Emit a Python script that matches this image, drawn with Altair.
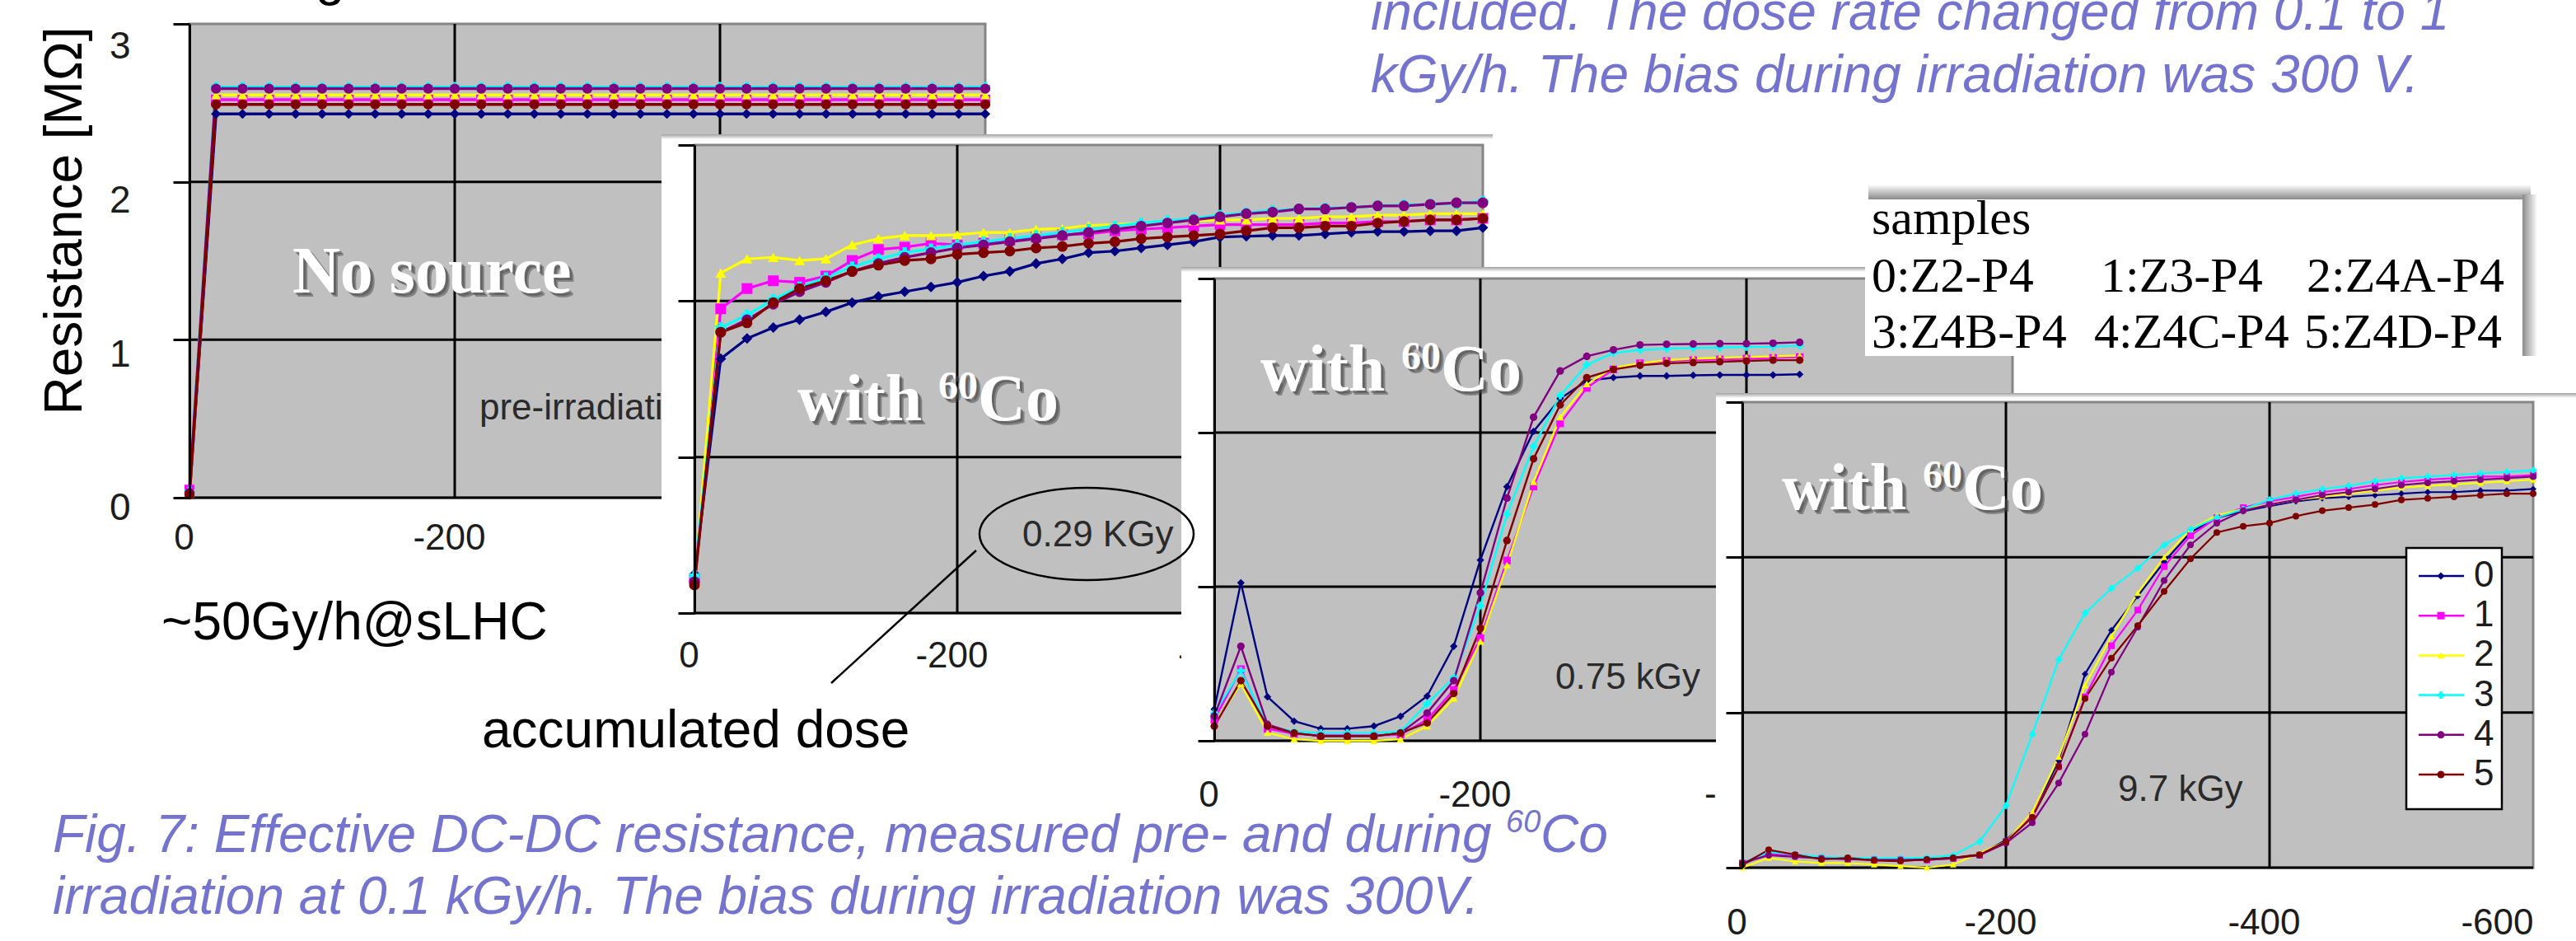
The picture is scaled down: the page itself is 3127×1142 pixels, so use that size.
import altair as alt
import pandas as pd

W, H = 3127, 1142
SANS = "Liberation Sans"
SERIF = "Liberation Serif"
BLUE = "#7474CF"
INK = "#1c1c1c"
PLOT_GRAY = "#C0C0C0"

# ------------------------------------------------------------------ data
series = ["0", "1", "2", "3", "4", "5"]
series_colors = ["#000080", "#FF00FF", "#FFFF00", "#00FFFF", "#800080", "#800000"]
series_shapes = ["diamond", "square", "triangle-up", "cross", "circle", "circle"]
sample_names = ["0:Z2-P4", "1:Z3-P4", "2:Z4A-P4", "3:Z4B-P4", "4:Z4C-P4", "5:Z4D-P4"]

x_domain = [0, -600]
y_domain = [0, 3]
grid_x = [-200, -400]
grid_y = [0, 1, 2]
y_ticks = [0, 1, 2, 3]

bias_full = [0, -20, -40, -60, -80, -100, -120, -140, -160, -180, -200, -220, -240, -260, -280, -300,
             -320, -340, -360, -380, -400, -420, -440, -460, -480, -500, -520, -540, -560, -580, -600]
bias_short = [0, -20, -40, -60, -80, -100, -120, -140, -160, -180, -200, -220,
              -240, -260, -280, -300, -320, -340, -360, -380, -400, -420, -440]

# panel 1: pre-irradiation (no source)
pre_s0 = [0.02, 2.43, 2.43, 2.43, 2.43, 2.43, 2.43, 2.43, 2.43, 2.43, 2.43, 2.43, 2.43, 2.43, 2.43, 2.43,
          2.43, 2.43, 2.43, 2.43, 2.43, 2.43, 2.43, 2.43, 2.43, 2.43, 2.43, 2.43, 2.43, 2.43, 2.43]
pre_s1 = [0.05, 2.52, 2.52, 2.52, 2.52, 2.52, 2.52, 2.52, 2.52, 2.52, 2.52, 2.52, 2.52, 2.52, 2.52, 2.52,
          2.52, 2.52, 2.52, 2.52, 2.52, 2.52, 2.52, 2.52, 2.52, 2.52, 2.52, 2.52, 2.52, 2.52, 2.52]
pre_s2 = [0.03, 2.55, 2.55, 2.55, 2.55, 2.55, 2.55, 2.55, 2.55, 2.55, 2.55, 2.55, 2.55, 2.55, 2.55, 2.55,
          2.55, 2.55, 2.55, 2.55, 2.55, 2.55, 2.55, 2.55, 2.55, 2.55, 2.55, 2.55, 2.55, 2.55, 2.55]
pre_s3 = [0.04, 2.60, 2.60, 2.60, 2.60, 2.60, 2.60, 2.60, 2.60, 2.60, 2.60, 2.60, 2.60, 2.60, 2.60, 2.60,
          2.60, 2.60, 2.60, 2.60, 2.60, 2.60, 2.60, 2.60, 2.60, 2.60, 2.60, 2.60, 2.60, 2.60, 2.60]
pre_s4 = [0.03, 2.59, 2.59, 2.59, 2.59, 2.59, 2.59, 2.59, 2.59, 2.59, 2.59, 2.59, 2.59, 2.59, 2.59, 2.59,
          2.59, 2.59, 2.59, 2.59, 2.59, 2.59, 2.59, 2.59, 2.59, 2.59, 2.59, 2.59, 2.59, 2.59, 2.59]
pre_s5 = [0.02, 2.49, 2.49, 2.49, 2.49, 2.49, 2.49, 2.49, 2.49, 2.49, 2.49, 2.49, 2.49, 2.49, 2.49, 2.49,
          2.49, 2.49, 2.49, 2.49, 2.49, 2.49, 2.49, 2.49, 2.49, 2.49, 2.49, 2.49, 2.49, 2.49, 2.49]

# panel 2: 0.29 kGy
d029_s0 = [0.25, 1.63, 1.76, 1.83, 1.88, 1.93, 1.99, 2.03, 2.06, 2.09, 2.12, 2.16, 2.19, 2.24, 2.27, 2.31,
           2.32, 2.34, 2.36, 2.38, 2.41, 2.415, 2.42, 2.42, 2.43, 2.44, 2.445, 2.445, 2.45, 2.45, 2.47]
d029_s1 = [0.22, 1.95, 2.08, 2.13, 2.12, 2.16, 2.26, 2.33, 2.345, 2.37, 2.36, 2.37, 2.39, 2.41, 2.425, 2.43,
           2.45, 2.46, 2.47, 2.48, 2.49, 2.49, 2.49, 2.49, 2.50, 2.50, 2.51, 2.51, 2.52, 2.52, 2.53]
d029_s2 = [0.20, 2.18, 2.27, 2.28, 2.26, 2.27, 2.36, 2.40, 2.42, 2.42, 2.425, 2.44, 2.44, 2.46, 2.465, 2.485,
           2.49, 2.50, 2.51, 2.515, 2.52, 2.52, 2.53, 2.53, 2.54, 2.54, 2.55, 2.55, 2.56, 2.56, 2.56]
d029_s3 = [0.24, 1.83, 1.91, 2.01, 2.09, 2.15, 2.22, 2.27, 2.31, 2.335, 2.36, 2.38, 2.40, 2.42, 2.44, 2.46,
           2.48, 2.50, 2.515, 2.53, 2.55, 2.565, 2.58, 2.59, 2.595, 2.60, 2.61, 2.615, 2.62, 2.625, 2.64]
d029_s4 = [0.20, 1.80, 1.88, 1.98, 2.06, 2.12, 2.19, 2.24, 2.28, 2.31, 2.34, 2.36, 2.38, 2.40, 2.42, 2.44,
           2.46, 2.48, 2.50, 2.52, 2.54, 2.56, 2.57, 2.59, 2.59, 2.60, 2.61, 2.61, 2.62, 2.63, 2.63]
d029_s5 = [0.18, 1.80, 1.86, 1.99, 2.08, 2.13, 2.19, 2.23, 2.26, 2.27, 2.30, 2.31, 2.32, 2.34, 2.35, 2.37,
           2.38, 2.40, 2.41, 2.42, 2.43, 2.45, 2.47, 2.47, 2.48, 2.48, 2.50, 2.51, 2.52, 2.52, 2.53]

# panel 3: 0.75 kGy
d075_s0 = [0.205, 1.025, 0.285, 0.127, 0.078, 0.078, 0.095, 0.159, 0.29, 0.613, 1.173, 1.649,
           2.008, 2.22, 2.336, 2.357, 2.368, 2.368, 2.372, 2.374, 2.374, 2.374, 2.378]
d075_s1 = [0.137, 0.465, 0.078, 0.045, 0.035, 0.035, 0.035, 0.04, 0.137, 0.33, 0.666, 1.17,
           1.65, 2.06, 2.29, 2.41, 2.45, 2.465, 2.47, 2.475, 2.48, 2.485, 2.49]
d075_s2 = [0.11, 0.37, 0.053, 0.01, 0.0, 0.0, 0.0, 0.01, 0.095, 0.275, 0.645, 1.14,
           1.68, 2.10, 2.315, 2.42, 2.45, 2.47, 2.48, 2.485, 2.49, 2.495, 2.50]
d075_s3 = [0.18, 0.455, 0.095, 0.06, 0.05, 0.05, 0.05, 0.06, 0.24, 0.41, 0.877, 1.47,
           1.91, 2.24, 2.44, 2.516, 2.537, 2.545, 2.55, 2.552, 2.556, 2.558, 2.565]
d075_s4 = [0.16, 0.613, 0.106, 0.05, 0.03, 0.03, 0.03, 0.05, 0.18, 0.39, 0.96, 1.575,
           2.10, 2.40, 2.495, 2.537, 2.569, 2.573, 2.575, 2.577, 2.577, 2.58, 2.586]
d075_s5 = [0.095, 0.39, 0.095, 0.05, 0.03, 0.03, 0.03, 0.05, 0.116, 0.307, 0.73, 1.30,
           1.83, 2.18, 2.357, 2.41, 2.437, 2.45, 2.455, 2.46, 2.465, 2.47, 2.47]

# panel 4: 9.7 kGy
d97_s0 = [0.02, 0.10, 0.084, 0.063, 0.06, 0.055, 0.05, 0.055, 0.063, 0.084, 0.178, 0.336, 0.69, 1.248, 1.53, 1.75,
          1.97, 2.16, 2.255, 2.297, 2.33, 2.36, 2.38, 2.39, 2.40, 2.41, 2.42, 2.42, 2.43, 2.43, 2.44]
d97_s1 = [0.03, 0.09, 0.08, 0.06, 0.055, 0.05, 0.05, 0.05, 0.06, 0.08, 0.168, 0.336, 0.65, 1.10, 1.43, 1.66,
          1.94, 2.14, 2.255, 2.32, 2.36, 2.39, 2.42, 2.44, 2.465, 2.485, 2.50, 2.51, 2.52, 2.52, 2.53]
d97_s2 = [0.0, 0.063, 0.04, 0.03, 0.03, 0.02, 0.01, 0.0, 0.02, 0.094, 0.168, 0.357, 0.713, 1.175, 1.49, 1.77,
          2.00, 2.18, 2.27, 2.31, 2.34, 2.37, 2.39, 2.41, 2.43, 2.45, 2.46, 2.47, 2.48, 2.49, 2.50]
d97_s3 = [0.03, 0.10, 0.085, 0.07, 0.065, 0.06, 0.06, 0.065, 0.08, 0.168, 0.40, 0.86, 1.34, 1.64, 1.80, 1.93,
          2.08, 2.18, 2.255, 2.31, 2.37, 2.41, 2.44, 2.46, 2.49, 2.51, 2.52, 2.53, 2.54, 2.55, 2.56]
d97_s4 = [0.03, 0.08, 0.07, 0.06, 0.055, 0.05, 0.05, 0.05, 0.06, 0.08, 0.158, 0.29, 0.545, 0.86, 1.26, 1.55,
          1.85, 2.08, 2.22, 2.30, 2.34, 2.37, 2.40, 2.42, 2.44, 2.465, 2.48, 2.49, 2.50, 2.51, 2.52]
d97_s5 = [0.02, 0.115, 0.084, 0.053, 0.063, 0.046, 0.042, 0.053, 0.063, 0.084, 0.168, 0.325, 0.65, 1.09, 1.35, 1.56,
          1.78, 1.99, 2.16, 2.20, 2.22, 2.265, 2.30, 2.32, 2.34, 2.37, 2.38, 2.39, 2.40, 2.41, 2.41]

pre_curves = [pre_s0, pre_s1, pre_s2, pre_s3, pre_s4, pre_s5]
d029_curves = [d029_s0, d029_s1, d029_s2, d029_s3, d029_s4, d029_s5]
d075_curves = [d075_s0, d075_s1, d075_s2, d075_s3, d075_s4, d075_s5]
d97_curves = [d97_s0, d97_s1, d97_s2, d97_s3, d97_s4, d97_s5]

# ------------------------------------------------------------------ helpers
color_scale = alt.Scale(domain=series, range=series_colors)
shape_scale = alt.Scale(domain=series, range=series_shapes)
ONE = pd.DataFrame({"k": [0]})
TICK_FONT = 44


def long_table(volts, curves):
    rows = []
    for name, ys in zip(series, curves):
        for v, r in zip(volts, ys):
            rows.append({"x": v, "y": r, "s": name})
    return pd.DataFrame(rows)


def txt(label, x, y, size, color="black", font=SANS, align="left", baseline="alphabetic",
        weight="normal", style="normal", angle=None, opacity=1.0):
    kw = dict(font=font, fontSize=size, color=color, align=align, baseline=baseline,
              fontWeight=weight, fontStyle=style, opacity=opacity)
    if angle is not None:
        kw["angle"] = angle
    return alt.Chart(pd.DataFrame({"label": [label]})).mark_text(**kw).encode(
        x=alt.value(x), y=alt.value(y), text="label:N")


def box(x1, x2, y1, y2, fill, stroke=None, sw=0):
    kw = dict(fill=fill)
    if stroke is not None:
        kw.update(stroke=stroke, strokeWidth=sw)
    return alt.Chart(ONE).mark_rect(**kw).encode(
        x=alt.value(x1), x2=alt.value(x2), y=alt.value(y1), y2=alt.value(y2))


def vgrad(c_top, c_bottom):
    return alt.LinearGradient(gradient="linear", x1=0, x2=0, y1=0, y2=1,
                              stops=[alt.GradientStop(color=c_top, offset=0),
                                     alt.GradientStop(color=c_bottom, offset=1)])


def hgrad(c_left, c_right):
    return alt.LinearGradient(gradient="linear", x1=0, x2=1, y1=0, y2=0,
                              stops=[alt.GradientStop(color=c_left, offset=0),
                                     alt.GradientStop(color=c_right, offset=1)])


def frame(x1, x2, y1, y2):
    return [box(x1, x2, y1, y2, "white"),
            box(x1, x2, y1, y1 + 6, vgrad("#a0a0a0", "#ffffff"))]


def serif_label(parts, x_left, base, size):
    """parts: list of (text, is_superscript); Times-bold advance widths."""
    widths = {"w": 722, "i": 278, "t": 333, "h": 556, " ": 250, "6": 500, "0": 500, "C": 722, "o": 500,
              "N": 722, "s": 389, "u": 556, "r": 444, "c": 444, "e": 444}
    pieces = []
    x = x_left
    for t, sup in parts:
        s = size * 0.6 if sup else size
        y = base - 0.33 * size if sup else base
        pieces.append((t, x, y, s))
        x += sum(widths.get(ch, 500) for ch in t) / 1000 * s
    layers = []
    for off, col, op in [(5, "#3c3c3c", 0.45), (3, "#4a4a4a", 0.55), (0, "white", 1.0)]:
        for t, px, py, s in pieces:
            layers.append(txt(t, px + off, py + off, s, color=col, font=SERIF, weight="bold", opacity=op))
    return layers


def panel(curves, volts, xr, yr, line_w, mark_size, x_labels, label_pad,
          covered_labels=(), show_y_labels=False, last_flush=False):
    sx = alt.Scale(domain=x_domain, range=xr, nice=False, zero=False)
    sy = alt.Scale(domain=y_domain, range=yr, nice=False, zero=False)
    ax_kw = dict(values=x_labels, title=None, domain=False, ticks=False, tickSize=0, grid=False,
                 labelFont=SANS, labelFontSize=TICK_FONT, labelColor=INK, labelPadding=label_pad,
                 labelFlush=False, labelOverlap=False, labelExpr="'' + datum.value",
                 orient="bottom", offset=yr[0] - H, zindex=1)
    if last_flush:
        ax_kw["labelAlign"] = {"condition": {"test": "datum.value == -600", "value": "right"}, "value": "center"}
        ax_kw["labelOffset"] = {"condition": {"test": "datum.value == -600", "value": 0}, "value": -7}
    else:
        ax_kw["labelOffset"] = -7
    ax_x = alt.Axis(**ax_kw)
    ay_kw = dict(values=y_ticks, title=None, domain=True, domainColor="black", domainWidth=3,
                 ticks=True, tickSize=20, tickWidth=3, tickColor="black", labels=show_y_labels,
                 grid=False, orient="left", offset=-xr[0], zindex=1)
    if show_y_labels:
        ay_kw.update(labelFont=SANS, labelFontSize=46, labelColor=INK, labelPadding=52,
                     labelOffset={"condition": [{"test": "datum.value == 3", "value": 27},
                                                {"test": "datum.value == 2", "value": 23},
                                                {"test": "datum.value == 1", "value": 18}],
                                  "value": 12})
    ax_y = alt.Axis(**ay_kw)

    def X(f):
        return alt.X(f, type="quantitative", scale=sx, axis=ax_x)

    def Y(f):
        return alt.Y(f, type="quantitative", scale=sy, axis=ax_y)

    area = pd.DataFrame({"x0": [x_domain[0]], "x1": [x_domain[1]], "y0": [y_domain[0]], "y1": [y_domain[1]]})
    bg = alt.Chart(area).mark_rect(fill=PLOT_GRAY, stroke="#858585", strokeWidth=3).encode(
        x=X("x0"), x2="x1", y=Y("y0"), y2="y1")
    vg = alt.Chart(pd.DataFrame({"x": grid_x, "y0": y_domain[0], "y1": y_domain[1]})).mark_rule(
        color="black", strokeWidth=3).encode(x=X("x"), y=Y("y0"), y2="y1")
    hg = alt.Chart(pd.DataFrame({"y": grid_y, "x0": x_domain[0], "x1": x_domain[1]})).mark_rule(
        color="black", strokeWidth=3).encode(x=X("x0"), x2="x1", y=Y("y"))
    df = long_table(volts, curves)
    lines = alt.Chart(df).mark_line(strokeWidth=line_w).encode(
        x=X("x"), y=Y("y"), color=alt.Color("s:N", scale=color_scale, legend=None))
    pts = alt.Chart(df).mark_point(filled=True, size=mark_size, opacity=1).encode(
        x=X("x"), y=Y("y"),
        color=alt.Color("s:N", scale=color_scale, legend=None),
        shape=alt.Shape("s:N", scale=shape_scale, legend=None))
    out = [bg, vg, hg, lines, pts]
    if covered_labels:
        # tick labels that the next screenshot partly hides: drawn as ordinary marks so they sit underneath it
        lab = pd.DataFrame({"v": list(covered_labels), "label": [str(v) for v in covered_labels]})
        out.append(alt.Chart(lab).mark_text(font=SANS, fontSize=TICK_FONT, color=INK, align="center",
                                            baseline="top", dx=-7).encode(
            x=X("v"), y=alt.value(yr[0] + label_pad), text="label:N"))
    return out


# ------------------------------------------------------------------ panels
p1 = alt.layer(
    *panel(pre_curves, bias_full, [230, 1196], [604, 29], 3.5, 150, [0, -200], 27,
           covered_labels=[-400], show_y_labels=True),
    *serif_label([("No source", False)], 355, 355, 80),
    txt("pre-irradiation", 582, 509, 44, color="#2a2a2a"),
)

p2 = alt.layer(
    *frame(803, 1812, 163, 850),
    *panel(d029_curves, bias_full, [843, 1800], [744, 176], 3.2, 170, [0, -200], 30, covered_labels=[-400]),
    *serif_label([("with ", False), ("60", True), ("Co", False)], 968, 510, 80),
    txt("0.29 KGy", 1241, 663, 44, color="#2a2a2a"),
)

p3 = alt.layer(
    *frame(1434, 2470, 324, 1060),
    *panel(d075_curves, bias_short, [1474, 2443], [899, 338], 2.4, 85, [0, -200], 44, covered_labels=[-400]),
    *serif_label([("with ", False), ("60", True), ("Co", False)], 1530, 474, 80),
    txt("0.75 kGy", 1888, 836, 44, color="#2a2a2a"),
)

samples_box = alt.layer(
    box(2268, 3072, 224, 242, vgrad("#ffffff", "#8a8a8a")),
    box(3062, 3080, 236, 432, hgrad("#8a8a8a", "#ffffff")),
    box(2264, 3062, 242, 432, "white"),
    txt("samples", 2272, 284, 60, font=SERIF),
    txt(sample_names[0], 2272, 354, 60, font=SERIF),
    txt(sample_names[1], 2550, 354, 60, font=SERIF),
    txt(sample_names[2], 2800, 354, 60, font=SERIF),
    txt(sample_names[3], 2272, 422, 60, font=SERIF),
    txt(sample_names[4], 2542, 422, 60, font=SERIF),
    txt(sample_names[5], 2797, 422, 60, font=SERIF),
)

p4 = alt.layer(
    *frame(2083, 3127, 477, 1142),
    *panel(d97_curves, bias_full, [2115, 3075], [1053, 488], 2.2, 65, [0, -200, -400, -600], 45,
           last_flush=True),
    *serif_label([("with ", False), ("60", True), ("Co", False)], 2163, 618, 80),
    txt("9.7 kGy", 2571, 972, 44, color="#2a2a2a"),
)

# legend of panel 4 (Excel style box)
leg_df = pd.DataFrame({"s": series})
ly = alt.Y("s:N", scale=alt.Scale(type="point", domain=series, range=[699, 940], padding=0), axis=None)
legend = alt.layer(
    box(2921, 3037, 665, 982, "white", stroke="black", sw=2.5),
    alt.Chart(leg_df).mark_rule(strokeWidth=2.5).encode(
        x=alt.value(2936), x2=alt.value(2991), y=ly,
        color=alt.Color("s:N", scale=color_scale, legend=None)),
    alt.Chart(leg_df).mark_point(filled=True, size=80, opacity=1).encode(
        x=alt.value(2963), y=ly,
        color=alt.Color("s:N", scale=color_scale, legend=None),
        shape=alt.Shape("s:N", scale=shape_scale, legend=None)),
    alt.Chart(leg_df).mark_text(font=SANS, fontSize=44, align="left", baseline="middle", color=INK).encode(
        x=alt.value(3003), y=ly, text="s:N"),
)

ELLIPSE = "M-1,0A1,0.43 0 1,1 1,0A1,0.43 0 1,1 -1,0Z"
annotations = alt.layer(
    alt.Chart(ONE).mark_point(shape=ELLIPSE, size=67600, filled=False, color="black",
                              strokeWidth=2.5, opacity=1).encode(x=alt.value(1319), y=alt.value(648)),
    alt.Chart(ONE).mark_rule(color="black", strokeWidth=2.5).encode(
        x=alt.value(1185), y=alt.value(668), x2=alt.value(1009), y2=alt.value(829)),
    txt("Resistance [MΩ]", 99, 268, 64, align="center", angle=270),
    txt("g", 383, -6, 64),
    txt("~50Gy/h@sLHC", 196, 776, 64),
    txt("accumulated dose", 585, 907, 64),
    txt("Fig. 7: Effective DC-DC resistance, measured pre- and during", 64, 1034, 64,
        color=BLUE, style="italic"),
    txt("60", 1828, 1010, 38, color=BLUE, style="italic"),
    txt("Co", 1870, 1034, 64, color=BLUE, style="italic"),
    txt("irradiation at 0.1 kGy/h. The bias during irradiation was 300V.", 64, 1109, 64,
        color=BLUE, style="italic"),
    txt("included. The dose rate changed from 0.1 to 1", 1664, 36, 64, color=BLUE, style="italic"),
    txt("kGy/h. The bias during irradiation was 300 V.", 1664, 112, 64, color=BLUE, style="italic"),
)

chart = alt.layer(p1, p2, p3, samples_box, p4, legend, annotations).resolve_scale(
    x="independent", y="independent"
).properties(
    width=W, height=H, autosize=alt.AutoSizeParams(type="none"), padding=0, background="white"
).configure_view(strokeWidth=0)

chart.save("out.html", embed_options={"renderer": "svg", "actions": False})
